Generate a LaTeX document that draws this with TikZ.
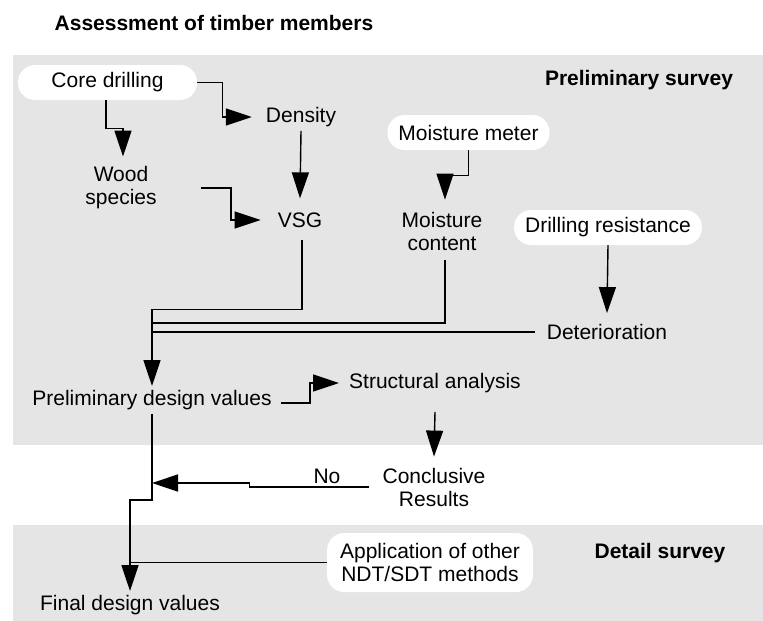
\documentclass[tikz,border=0pt]{standalone}
\usepackage{fontspec}
\setmainfont{Liberation Sans}
\usepackage{xcolor}
\usetikzlibrary{arrows.meta}

\begin{document}
\begin{tikzpicture}[x=1pt, y=-1pt,
  txt/.style={font=\fontsize{21}{23}\selectfont, align=center, inner sep=4pt},
  head/.style={txt, font=\fontsize{21}{23}\selectfont\bfseries},
  pill/.style={txt, fill=white, rounded corners=17pt, minimum height=35pt, inner xsep=11pt},
  arr/.style={-{Triangle[length=26pt,width=17pt]}, line width=1.4pt},
  ln/.style={line width=1.4pt}]
  \useasboundingbox (0,0) rectangle (763,621);

  % Survey panels
  \fill[black!10] (13,55) rectangle (763,445);
  \fill[black!10] (13,525) rectangle (763,621);

  % Headings
  \node[head] (title) at (214,23) {Assessment of timber members};
  \node[head] (prelim) at (639,80) {Preliminary survey};
  \node[head] (detail) at (660,553) {Detail survey};

  % Test methods
  \node[pill, minimum width=179pt] (core) at (107.5,82.5) {Core drilling};
  \node[pill] (meter) at (468.5,132.5) {Moisture meter};
  \node[pill] (drillres) at (608,227.5) {Drilling resistance};
  \node[pill, minimum height=59pt, inner xsep=13pt] (appl) at (430,562.5) {Application of other\\NDT/SDT methods};

  % Properties
  \node[txt] (density) at (301,117) {Density};
  \node[txt] (wood) at (121,188) {Wood\\species};
  \node[txt] (vsg) at (300,220) {VSG};
  \node[txt] (moist) at (442,231) {Moisture\\content};
  \node[txt] (deter) at (607,332) {Deterioration};
  \node[txt] (pdv) at (152,400) {Preliminary design values};
  \node[txt] (struct) at (435,383) {Structural analysis};
  \node[txt] (concl) at (434,487) {Conclusive\\Results};
  \node[txt] (no) at (327,476) {No};
  \node[txt] (final) at (130,605) {Final design values};

  % Junctions on the trunk
  \coordinate (jm) at (152,323);
  \coordinate (jn) at (152,483);
  \coordinate (jt) at (152,500);

  % Core drilling -> Density / Wood species
  \draw[arr] (core.east) -- ++(25,0) |- ([xshift=-10pt]density.west);
  \draw[arr] ([xshift=-1.5pt]core.south) -- ++(0,28) -| ([xshift=2pt,yshift=6pt]wood.north);

  % Density, Wood species -> VSG
  \draw[arr] (density.south) -- ([yshift=10pt]vsg.north);
  \draw[arr] ([xshift=40pt]wood.east) -- ++(30,0) |- ([xshift=-13pt]vsg.west);

  % Moisture meter -> Moisture content
  \draw[arr] (meter.south) -- ++(0,25) -| ([xshift=3pt,yshift=8pt]moist.north);

  % Drilling resistance -> Deterioration
  \draw[arr] (drillres.south) -- ([yshift=7pt]deter.north);

  % VSG, Moisture content, Deterioration -> Preliminary design values
  \draw[arr] ([xshift=2pt,yshift=-8pt]vsg.south) -- ++(0,70) -| (pdv.north);
  \draw[ln] ([xshift=3pt,yshift=-6pt]moist.south) |- (jm);
  \draw[ln] ([xshift=-8pt]deter.west) -- (deter.west -| jm);

  % Preliminary design values -> Structural analysis -> Conclusive Results
  \draw[arr] ([xshift=5pt,yshift=-3pt]pdv.east) -- ++(29,0) |- ([xshift=-6pt]struct.west);
  \draw[arr] ([yshift=-15pt]struct.south) -- ([yshift=7pt]concl.north);

  % No -> back to the trunk
  \draw[arr] ([xshift=-9pt]concl.west) -- ++(-120,0) |- (jn);

  % Trunk -> Final design values
  \draw[arr] (pdv.south) -- (jt) -| (final.north);
  \draw[ln] (appl.west) -- (appl.west -| final.north);
\end{tikzpicture}
\end{document}
